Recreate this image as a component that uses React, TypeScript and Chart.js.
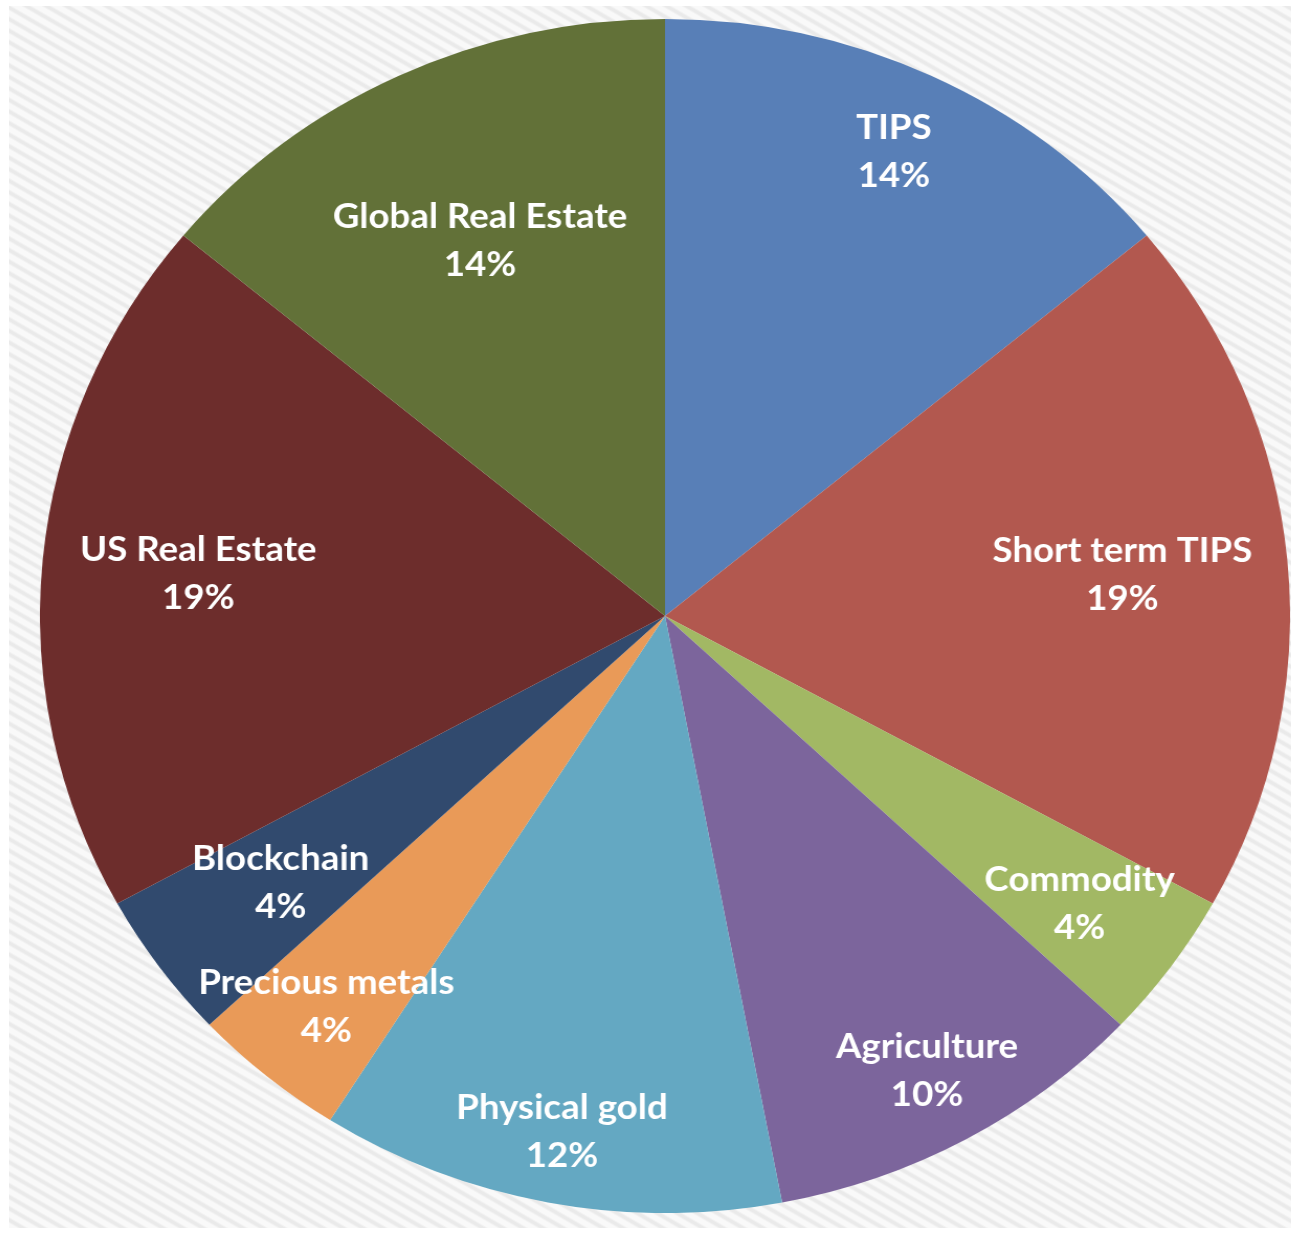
import React, { useEffect, useRef } from "react";
import { Chart, registerables } from "chart.js";

Chart.register(...registerables);

const categories = [
  "TIPS",
  "Short term TIPS",
  "Commodity",
  "Agriculture",
  "Physical gold",
  "Precious metals",
  "Blockchain",
  "US Real Estate",
  "Global Real Estate",
];
const shares = [14, 19, 4, 10, 12, 4, 4, 19, 14];
const sliceColors = [
  "#587FB7",
  "#B2584F",
  "#A2B864",
  "#7C659C",
  "#64A8C2",
  "#E99A58",
  "#314A6E",
  "#6D2D2C",
  "#627138",
];
// radial position of each label, as a fraction of the radius
const labelRadius = [0.86, 0.735, 0.82, 0.87, 0.88, 0.85, 0.76, 0.75, 0.695];

const labelPlugin = {
  id: "sliceLabels",
  afterDatasetsDraw(chart: any) {
    const ctx = chart.ctx;
    const meta = chart.getDatasetMeta(0);
    ctx.save();
    ctx.fillStyle = "#FFFFFF";
    ctx.font = "bold 35px Lato, 'Open Sans', sans-serif";
    ctx.textAlign = "center";
    ctx.textBaseline = "middle";
    meta.data.forEach((arc: any, i: number) => {
      const p = arc.getProps(["x", "y", "startAngle", "endAngle", "outerRadius"], true);
      const mid = (p.startAngle + p.endAngle) / 2;
      const r = p.outerRadius * labelRadius[i];
      const cx = p.x + Math.cos(mid) * r;
      const cy = p.y + Math.sin(mid) * r;
      ctx.fillText(categories[i], cx, cy - 24);
      ctx.fillText(shares[i] + "%", cx, cy + 24);
    });
    ctx.restore();
  },
};

export default function App() {
  const ref = useRef<HTMLCanvasElement>(null);
  useEffect(() => {
    if (!ref.current) return;
    const chart = new Chart(ref.current, {
      type: "pie",
      data: {
        labels: categories,
        datasets: [
          {
            data: shares,
            backgroundColor: sliceColors,
            borderWidth: 0,
          },
        ],
      },
      options: {
        animation: false,
        responsive: true,
        maintainAspectRatio: false,
        layout: { padding: 0 },
        plugins: {
          legend: { display: false },
          tooltip: { enabled: false },
        },
      },
      plugins: [labelPlugin],
    });
    return () => chart.destroy();
  }, []);

  return (
    <div
      style={{
        position: "fixed",
        left: 0,
        top: 0,
        width: 1308,
        height: 1238,
        background: "#FFFFFF",
        overflow: "hidden",
      }}
    >
      <div
        style={{
          position: "absolute",
          left: 9,
          top: 6,
          width: 1282,
          height: 1222,
          background:
            "repeating-linear-gradient(30deg, #F9F9F9 0px, #F9F9F9 4px, #EAEAEA 6px, #EAEAEA 8px, #F9F9F9 10px)",
        }}
      />
      <div
        style={{
          position: "absolute",
          left: 68,
          top: 19,
          width: 1194,
          height: 1194,
          transform: "scaleX(1.047)",
          transformOrigin: "center",
        }}
      >
        <canvas ref={ref} />
      </div>
    </div>
  );
}
